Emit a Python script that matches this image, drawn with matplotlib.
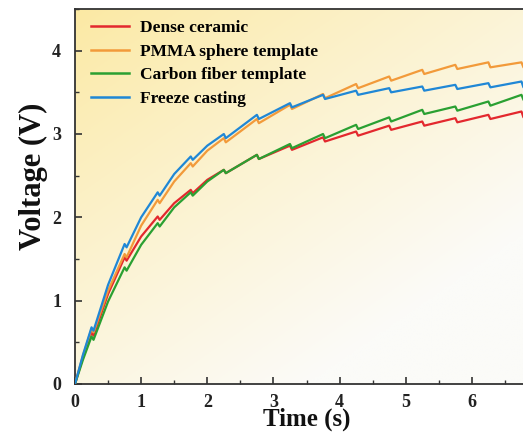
import numpy as np
import matplotlib
matplotlib.use("Agg")
import matplotlib.pyplot as plt
from matplotlib.ticker import MultipleLocator

plt.rcParams['font.family'] = ['Liberation Serif', 'DejaVu Serif']
plt.rcParams['font.weight'] = 'bold'

# time (s): rise to a peak, small drop right after it, repeated every 0.5 s
time = [0, 0.12, 0.25, 0.28, 0.50, 0.75, 0.78, 1.00, 1.25, 1.28, 1.50, 1.75,
        1.78, 2.00, 2.25, 2.28, 2.75, 2.78, 3.25, 3.28, 3.75, 3.78, 4.25, 4.28,
        4.75, 4.78, 5.25, 5.28, 5.75, 5.78, 6.25, 6.28, 6.75, 6.78, 6.95]

dense = [0, 0.32, 0.62, 0.58, 1.08, 1.52, 1.48, 1.77, 2.01, 1.97, 2.17, 2.33,
         2.29, 2.45, 2.57, 2.53, 2.75, 2.70, 2.86, 2.81, 2.96, 2.91, 3.03, 2.98,
         3.10, 3.05, 3.15, 3.10, 3.19, 3.14, 3.23, 3.18, 3.27, 3.20, 3.22]
pmma = [0, 0.34, 0.66, 0.62, 1.12, 1.56, 1.52, 1.90, 2.21, 2.17, 2.43, 2.65,
        2.61, 2.80, 2.95, 2.90, 3.18, 3.13, 3.35, 3.30, 3.48, 3.43, 3.60, 3.55,
        3.69, 3.64, 3.77, 3.72, 3.83, 3.78, 3.86, 3.80, 3.86, 3.80, 3.82]
carbon = [0, 0.29, 0.57, 0.53, 0.99, 1.40, 1.36, 1.67, 1.93, 1.89, 2.12, 2.30,
          2.26, 2.43, 2.57, 2.53, 2.75, 2.70, 2.88, 2.83, 3.00, 2.95, 3.11, 3.06,
          3.20, 3.15, 3.29, 3.24, 3.33, 3.28, 3.39, 3.34, 3.47, 3.41, 3.43]
freeze = [0, 0.35, 0.68, 0.64, 1.19, 1.68, 1.64, 2.00, 2.30, 2.26, 2.52, 2.73,
          2.69, 2.86, 3.00, 2.95, 3.23, 3.18, 3.37, 3.32, 3.47, 3.42, 3.52, 3.47,
          3.55, 3.50, 3.57, 3.52, 3.59, 3.54, 3.61, 3.56, 3.63, 3.56, 3.58]

labels = ['Dense ceramic', 'PMMA sphere template', 'Carbon fiber template', 'Freeze casting']
colors = ['#E3282E', '#F29A3A', '#2AA032', '#1F87D6']
x_ticks = [0, 1, 2, 3, 4, 5, 6]
y_ticks = [0, 1, 2, 3, 4]

W, H = 523, 433
fig = plt.figure(figsize=(W / 100, H / 100), dpi=100)
# axes runs past the right edge, the reference is cropped there
ax = fig.add_axes([75 / W, 49 / H, 463 / W, 375 / H])
ax.set_xlim(0, 7)
ax.set_ylim(0, 4.5)

# yellow -> white diagonal background
gx, gy = np.meshgrid(np.linspace(0, 1, 200), np.linspace(1, 0, 200))
g = np.clip(0.6 * gx + 0.7 * (1 - gy), 0, 1) ** 0.9
top = np.array([252, 233, 163]) / 255
bot = np.array([251, 251, 248]) / 255
img = top[None, None, :] * (1 - g[..., None]) + bot[None, None, :] * g[..., None]
ax.imshow(img, extent=[0, 1, 0, 1], transform=ax.transAxes, aspect='auto', zorder=0)

for ys, lab, c in zip([dense, pmma, carbon, freeze], labels, colors):
    ax.plot(time, ys, color=c, lw=1.6, label=lab, zorder=3)

ax.set_xticks(x_ticks)
ax.set_yticks(y_ticks)
ax.xaxis.set_minor_locator(MultipleLocator(0.5))
ax.yaxis.set_minor_locator(MultipleLocator(0.5))
ax.tick_params(which='major', direction='in', length=5, width=1.2, colors='#333333',
               labelcolor='#222222', labelsize=13)
ax.tick_params(which='minor', direction='in', length=3, width=1.0, colors='#333333')
ax.tick_params(axis='x', pad=7)
ax.tick_params(axis='y', pad=10)
for s in ax.spines.values():
    s.set_color('#333333')
    s.set_linewidth(1.3)

ax.set_xlabel('Time (s)', fontsize=18, fontweight='bold', labelpad=-2, color='#111111')
ax.set_ylabel('Voltage (V)', fontsize=22, fontweight='bold', color='#111111')
ax.yaxis.set_label_coords(-0.058, 0.555)

leg = ax.legend(loc='upper left', frameon=False, fontsize=12.5, handlelength=2.2,
                handletextpad=0.6, labelspacing=0.42, borderaxespad=0.25,
                bbox_to_anchor=(0.01, 1.0))
for line in leg.get_lines():
    line.set_linewidth(1.8)

fig.savefig('out.png', dpi=100)
